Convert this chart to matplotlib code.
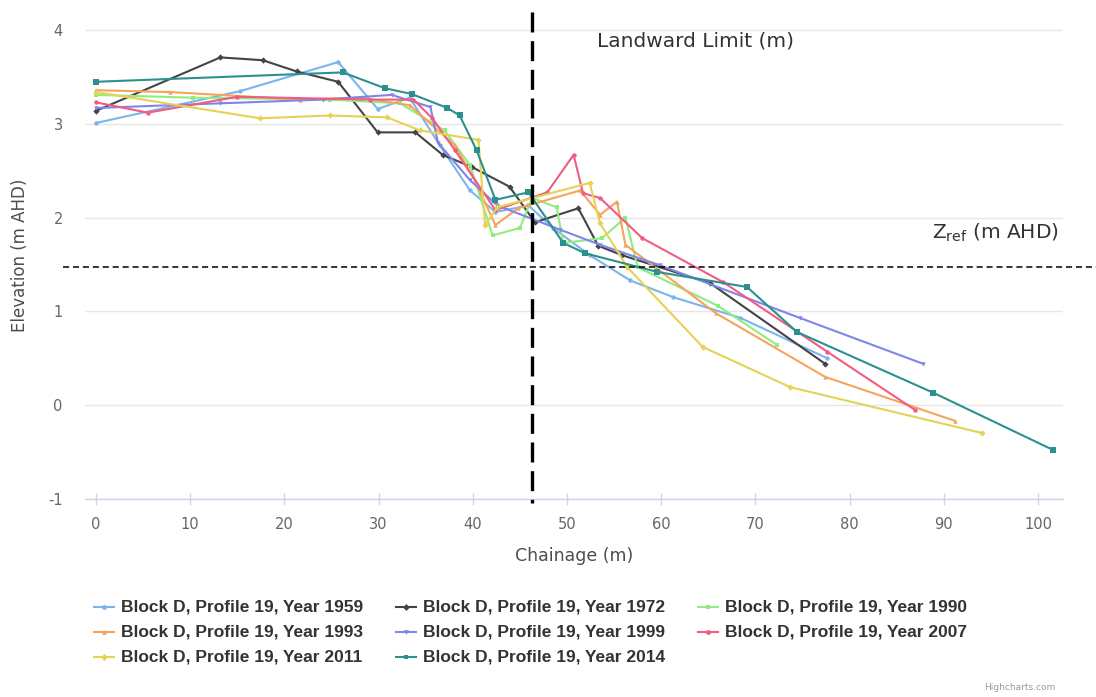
import matplotlib
matplotlib.use("Agg")
import matplotlib.pyplot as plt
from matplotlib.lines import Line2D

# Beach profile surveys: chainage (m) and elevation (m AHD) per survey year
years = ["1959", "1972", "1990", "1993", "1999", "2007", "2011", "2014"]

ch_1959 = [0.0, 15.3, 25.7, 29.9, 33.3, 36.5, 39.7, 42.4, 45.9, 48.5, 52.4, 56.7, 61.3, 68.4, 77.6]
el_1959 = [3.01, 3.35, 3.66, 3.16, 3.28, 2.77, 2.29, 2.06, 2.13, 1.89, 1.60, 1.33, 1.15, 0.93, 0.50]

ch_1972 = [0.0, 13.2, 17.7, 21.3, 25.7, 29.9, 33.9, 36.8, 39.9, 43.9, 46.6, 51.2, 53.3, 55.8, 65.2, 77.4]
el_1972 = [3.14, 3.71, 3.68, 3.56, 3.45, 2.91, 2.91, 2.67, 2.54, 2.33, 1.95, 2.10, 1.70, 1.60, 1.30, 0.44]

ch_1990 = [0.0, 10.3, 24.8, 32.3, 37.0, 39.7, 42.1, 45.0, 46.3, 48.9, 49.6, 53.7, 56.2, 57.5, 66.0, 72.3]
el_1990 = [3.31, 3.28, 3.26, 3.22, 2.93, 2.56, 1.81, 1.89, 2.21, 2.11, 1.73, 1.78, 2.00, 1.47, 1.06, 0.64]

ch_1993 = [0.0, 7.9, 21.7, 28.0, 33.3, 38.1, 40.2, 42.4, 44.8, 51.4, 53.5, 55.3, 56.2, 65.8, 77.4, 91.2]
el_1993 = [3.36, 3.34, 3.26, 3.28, 3.20, 2.77, 2.40, 1.92, 2.10, 2.29, 2.03, 2.17, 1.71, 0.98, 0.30, -0.17]

ch_1999 = [0.0, 13.2, 24.1, 31.4, 35.5, 36.3, 39.7, 42.6, 49.3, 53.5, 59.9, 74.7, 87.8]
el_1999 = [3.17, 3.22, 3.26, 3.31, 3.18, 2.80, 2.40, 2.13, 1.87, 1.71, 1.49, 0.93, 0.44]

ch_2007 = [0.0, 5.5, 15.0, 29.1, 33.7, 35.7, 38.1, 42.4, 47.9, 50.7, 51.7, 53.5, 58.0, 66.6, 77.6, 86.9]
el_2007 = [3.23, 3.12, 3.29, 3.26, 3.26, 3.06, 2.72, 2.08, 2.27, 2.67, 2.26, 2.21, 1.78, 1.31, 0.57, -0.05]

ch_2011 = [0.0, 17.4, 24.8, 30.9, 34.4, 40.6, 41.3, 42.6, 52.4, 53.5, 56.4, 64.4, 73.7, 94.1]
el_2011 = [3.34, 3.06, 3.09, 3.07, 2.93, 2.83, 1.92, 2.11, 2.37, 1.94, 1.47, 0.62, 0.19, -0.30]

ch_2014 = [0.0, 26.2, 30.7, 33.5, 37.3, 38.6, 40.4, 42.4, 45.9, 49.6, 51.9, 59.6, 69.1, 74.4, 88.9, 101.6]
el_2014 = [3.45, 3.55, 3.38, 3.32, 3.17, 3.09, 2.72, 2.19, 2.27, 1.73, 1.62, 1.42, 1.26, 0.78, 0.13, -0.48]

chainages = [ch_1959, ch_1972, ch_1990, ch_1993, ch_1999, ch_2007, ch_2011, ch_2014]
elevations = [el_1959, el_1972, el_1990, el_1993, el_1999, el_2007, el_2011, el_2014]

landward_limit = 46.25   # m chainage
z_ref = 1.47             # m AHD

x_ticks = [0, 10, 20, 30, 40, 50, 60, 70, 80, 90, 100]
y_ticks = [-1, 0, 1, 2, 3, 4]

colors = ["#7cb5ec", "#434348", "#90ed7d", "#f7a35c", "#8085e9", "#f15c80", "#e4d354", "#2b908f"]
markers = ["o", "D", "s", "^", "v", "o", "D", "s"]

W, H = 1096, 697
fig = plt.figure(figsize=(W / 100, H / 100), dpi=100)
ax = fig.add_axes([85 / W, 1 - 498.7 / H, 978 / W, 487.2 / H])

for i, yr in enumerate(years):
    ax.plot(chainages[i], elevations[i], color=colors[i], lw=1.5,
            marker=markers[i], ms=3.2 if i < 7 else 4.0, mew=0, zorder=3 + i * 0.1,
            solid_joinstyle="round")

ax.set_xlim(-1.17, 102.65)
ax.set_ylim(-1, 4.2)
ax.set_xticks(x_ticks)
ax.set_yticks(y_ticks)
ax.set_yticklabels([str(v) if v >= 0 else "-" + str(-v) for v in y_ticks])

for side in ["top", "right", "left"]:
    ax.spines[side].set_visible(False)
ax.spines["bottom"].set_color("#ccd6eb")
ax.spines["bottom"].set_linewidth(1.0)
ax.grid(axis="y", color="#e6e6e6", lw=1.0)
ax.set_axisbelow(True)
ax.tick_params(axis="x", direction="inout", length=8, color="#ccd6eb", width=1,
               labelsize=10.5, labelcolor="#666666", pad=9)
ax.tick_params(axis="y", length=0, labelsize=10.5, labelcolor="#666666", pad=16)

ax.set_xlabel("Chainage (m)", fontsize=12.5, color="#4d4d4d", labelpad=11)
ax.set_ylabel("Elevation (m AHD)", fontsize=12, color="#4d4d4d", labelpad=14)

# Reference lines
vline = Line2D([landward_limit, landward_limit], [4.2, -1.05], color="black", lw=2.4,
               transform=ax.transData, clip_on=False, zorder=10)
vline.set_dashes((6.0, 2.6))
ax.add_line(vline)
hline = Line2D([-3.5, 106.3], [z_ref, z_ref], color="black", lw=1.1,
               transform=ax.transData, clip_on=False, zorder=10)
hline.set_dashes((4.0, 2.5))
ax.add_line(hline)

fig.text(597 / W, 1 - 41 / H, "Landward Limit (m)", fontsize=14.5, color="#333333",
         ha="left", va="center")
fig.text(932 / W, 1 - 233 / H, r"Z$_{\mathrm{ref}}$ (m AHD)", fontsize=14.5, color="#333333",
         ha="left", va="center")

# Legend: three columns, filled row by row
col_x = [94, 396, 698]
row_y = [607, 632, 657]
for i, yr in enumerate(years):
    r, c = divmod(i, 3)
    x0, y0 = col_x[c], row_y[r]
    fig.add_artist(Line2D([x0 / W, (x0 + 20) / W], [1 - y0 / H, 1 - y0 / H],
                          color=colors[i], lw=1.5, transform=fig.transFigure))
    fig.add_artist(Line2D([(x0 + 10) / W], [1 - y0 / H], color=colors[i], marker=markers[i],
                          ms=3.5, mew=0, transform=fig.transFigure))
    fig.text((x0 + 27) / W, 1 - y0 / H, f"Block D, Profile 19, Year {yr}",
             fontsize=12.5, fontweight="bold", family="Liberation Sans",
             color="#333333", ha="left", va="center")

fig.text(1020 / W, 1 - 688 / H, "Highcharts.com", fontsize=6.5, color="#999999",
         ha="center", va="center")

fig.savefig("out.png", dpi=100, facecolor="white")
